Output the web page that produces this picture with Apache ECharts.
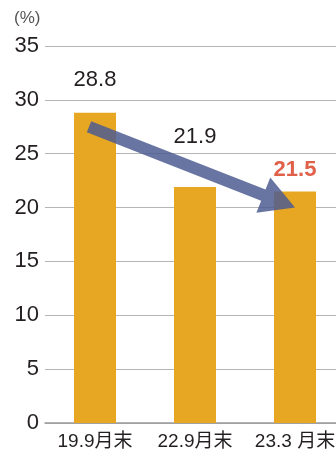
<!DOCTYPE html>
<html><head><meta charset="utf-8">
<script src="https://cdn.jsdelivr.net/npm/echarts@6/dist/echarts.min.js"></script>
<style>html,body{margin:0;padding:0;background:#fff;overflow:hidden;width:336px;height:457px}#c{width:345px;height:457px}</style>
</head><body><div id="c"></div>
<script>
var categories = ['19.9月末', '22.9月末', '23.3 月末'];
var values = [28.8, 21.9, 21.5];
var yTicks = [0, 5, 10, 15, 20, 25, 30, 35];
var unitLabel = '(%)';
var arrowFrom = [0, 27.5];
var arrowTo = [2, 20.0];

var chart = echarts.init(document.getElementById('c'), null, {renderer: 'canvas', width: 345, height: 457});
var font = '"Liberation Sans", Arial, "Noto Sans CJK JP", sans-serif';
var labelDist = [22, 39, 10];
var labelColor = ['#231f20', '#231f20', '#e0604a'];
var unitGraphic = {type: 'text', id: 'unit', left: 14, top: 10, style: {text: unitLabel, fontSize: 17, fill: '#555', fontFamily: font}};
chart.setOption({
  animation: false,
  grid: {left: 45, right: 0, top: 46, bottom: 34, containLabel: false},
  xAxis: {
    type: 'category', data: categories,
    axisLine: {show: true, lineStyle: {color: '#9a9a9a', width: 1.5}},
    axisTick: {show: false},
    axisLabel: {color: '#231f20', fontSize: 19, fontFamily: font, margin: 9, interval: 0}
  },
  yAxis: {
    type: 'value', min: yTicks[0], max: yTicks[yTicks.length - 1], interval: 5,
    axisLine: {show: false}, axisTick: {show: false},
    axisLabel: {color: '#231f20', fontSize: 22, fontFamily: font, margin: 6},
    splitLine: {lineStyle: {color: '#b5b5b5', width: 1}}
  },
  series: [{
    type: 'bar', barWidth: 42,
    itemStyle: {color: '#e8a722'},
    data: values.map(function (v, i) {
      return {value: v, label: {show: true, position: 'top', distance: labelDist[i],
        color: labelColor[i], fontSize: 22, fontFamily: font, fontWeight: i === 2 ? 'bold' : 'normal'}};
    })
  }],
  graphic: [unitGraphic]
});

var S = chart.convertToPixel({seriesIndex: 0}, arrowFrom);
var T = chart.convertToPixel({seriesIndex: 0}, arrowTo);
S[0] -= 6;
var dx = T[0] - S[0], dy = T[1] - S[1], L = Math.sqrt(dx * dx + dy * dy);
var ux = dx / L, uy = dy / L, nx = -uy, ny = ux;
var hl = 34, hh = 19, sh = 6;
var Bx = T[0] - ux * hl, By = T[1] - uy * hl;
var pts = [
  [S[0] + nx * sh, S[1] + ny * sh],
  [Bx + nx * sh, By + ny * sh],
  [Bx + nx * hh, By + ny * hh],
  [T[0], T[1]],
  [Bx - nx * hh, By - ny * hh],
  [Bx - nx * sh, By - ny * sh],
  [S[0] - nx * sh, S[1] - ny * sh]
];
chart.setOption({graphic: [
  unitGraphic,
  {type: 'polygon', id: 'arrow', shape: {points: pts}, style: {fill: 'rgba(78,92,145,0.85)'}, z: 100}
]});
</script></body></html>
